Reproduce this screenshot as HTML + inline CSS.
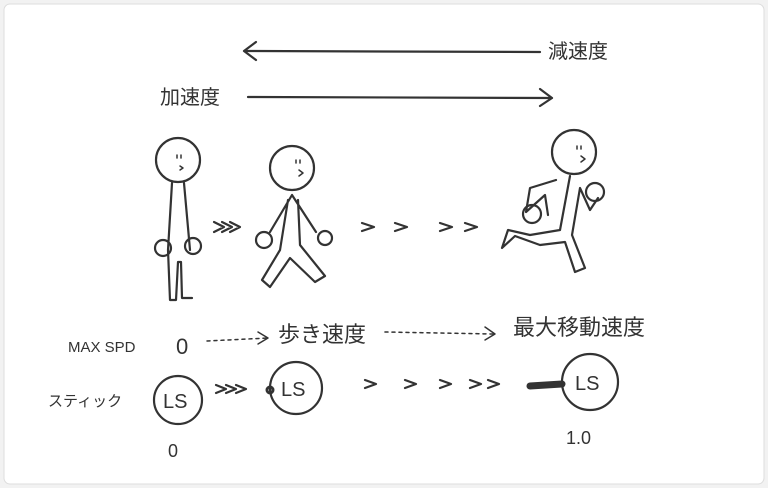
<!DOCTYPE html>
<html><head><meta charset="utf-8"><style>
body{margin:0;background:#f2f2f2;width:768px;height:488px;overflow:hidden}
svg{display:block}
text{font-family:"Liberation Sans","Noto Sans CJK JP",sans-serif;fill:#333}
</style></head><body>
<svg width="768" height="488" viewBox="0 0 768 488">
<rect x="4" y="4" width="760" height="480" rx="6" fill="#fff" stroke="#ddd"/>
<g fill="none" stroke="#333" stroke-width="2.2" stroke-linecap="round" stroke-linejoin="round">
<path d="M540 52 L244 51 M256 42 L244 51 L256 60"/>
<path d="M248 97 L552 98 M540 89 L552 98 L540 106"/>
<circle cx="178" cy="160" r="22"/>
<path d="M177 155 L177 158 M181 155 L181 158 M180 166 L183 168 L180 170" stroke-width="1.5"/>
<path d="M172 183 L168 250 L170 300 L176 300 L178 262 L181 262 L182 298 L192 298 M184 183 L190 250"/>
<circle cx="163" cy="248" r="8"/><circle cx="193" cy="246" r="8"/>
<circle cx="292" cy="168" r="22"/>
<path d="M296 160 L296 163 M300 160 L300 163 M299 170 L303 173 L299 176" stroke-width="1.5"/>
<path d="M292 195 L270 232 M292 195 L316 232 M288 200 L280 250 L262 280 L270 287 L290 258 L315 282 L325 276 L300 245 L298 200"/>
<circle cx="264" cy="240" r="8"/><circle cx="325" cy="238" r="7"/>
<circle cx="574" cy="152" r="22"/>
<path d="M577 146 L577 149 M581 146 L581 149 M581 156 L585 159 L581 162" stroke-width="1.5"/>
<path d="M556 180 L530 188 L526 212 L545 195 L548 215 M570 176 L560 230 L530 235 L508 230 L502 248 L515 236 L540 245 L565 242 L575 272 L585 268 L572 235 L580 188 L590 210 L598 198"/>
<circle cx="595" cy="192" r="9"/><circle cx="532" cy="214" r="9"/>
<path d="M214 222 L224 227 L214 232 M222 222 L232 227 L222 232 M230 222 L240 227 L230 232"/>
<path d="M362 223 L374 227 L362 231 M395 223 L407 227 L395 231 M440 223 L452 227 L440 231 M465 223 L477 227 L465 231"/>
<path d="M207 341 L268 338" stroke-dasharray="3 4" stroke-width="1.5"/>
<path d="M258 332 L268 338 L258 344" stroke-width="1.5"/>
<path d="M385 332 L493 334" stroke-dasharray="3 4" stroke-width="1.5"/>
<path d="M485 327 L495 334 L485 340" stroke-width="1.5"/>
<circle cx="178" cy="400" r="24"/>
<circle cx="296" cy="388" r="26"/>
<circle cx="590" cy="382" r="28"/>
<path d="M216 385 L226 389 L216 393 M226 385 L236 389 L226 393 M236 385 L246 389 L236 393"/>
<path d="M365 380 L376 384 L365 388 M405 380 L416 384 L405 388 M440 380 L451 384 L440 388 M470 380 L481 384 L470 388 M488 380 L499 384 L488 388"/>
<path d="M530 386 L562 384" stroke-width="7"/>
<circle cx="270" cy="390" r="3" stroke-width="3"/>
</g>
<text x="548" y="58" font-size="20">減速度</text>
<text x="160" y="104" font-size="20">加速度</text>
<text x="68" y="352" font-size="15">MAX SPD</text>
<text x="176" y="354" font-size="22">0</text>
<text x="278" y="342" font-size="22">歩き速度</text>
<text x="513" y="335" font-size="22">最大移動速度</text>
<text x="48" y="406" font-size="15">スティック</text>
<text x="163" y="408" font-size="20">LS</text>
<text x="281" y="396" font-size="20">LS</text>
<text x="575" y="390" font-size="20">LS</text>
<text x="168" y="457" font-size="18">0</text>
<text x="566" y="444" font-size="18">1.0</text>
</svg>
</body></html>
